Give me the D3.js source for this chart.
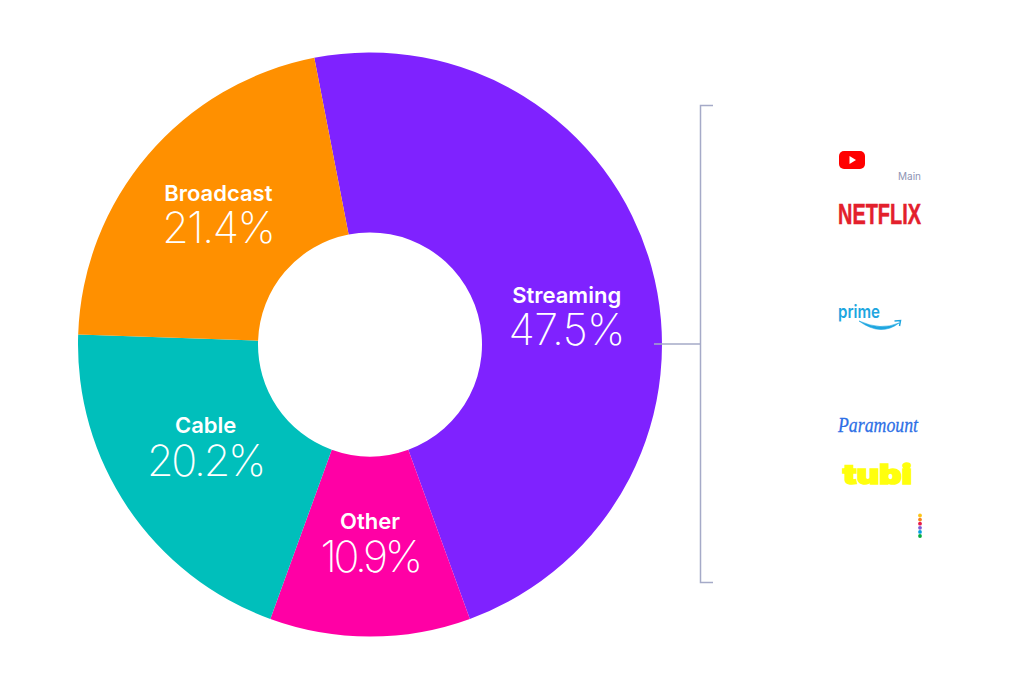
<!DOCTYPE html>
<html>
<head>
<meta charset="utf-8">
<script src="https://cdn.jsdelivr.net/npm/d3@7"></script>
<style>
html, body { margin: 0; padding: 0; background: #fff; }
svg { display: block; }
text { font-family: Inter, "Noto Sans", sans-serif; }
</style>
</head>
<body>
<div id="my_dataviz"></div>
<script>
var categories = ["Streaming", "Other", "Cable", "Broadcast"];
var shareLabels = ["47.5%", "10.9%", "20.2%", "21.4%"];
// arc sizes, Other and Cable are drawn a bit off their printed numbers
var arcShares = [47.5, 11.1, 20.0, 21.4];
var sliceColors = ["#7f22ff", "#ff00a5", "#00bfbb", "#ff9000"];
var peacockColors = ["#fcc419", "#f5821f", "#e6194b", "#7b5cd6", "#069de0", "#05ac3f"];

var width = 1023, height = 690;
var cx = 370, cy = 344.5;
var outerR = 292, innerR = 112;

var svg = d3.select("#my_dataviz")
    .append("svg")
    .attr("width", width)
    .attr("height", height);

// donut
var pie = d3.pie()
    .sort(null)
    .startAngle(-11 * Math.PI / 180)
    .endAngle(349 * Math.PI / 180);

var arc = d3.arc().innerRadius(innerR).outerRadius(outerR);
var slices = pie(arcShares);

var donut = svg.append("g").attr("transform", "translate(" + cx + "," + cy + ")");

donut.selectAll("path")
    .data(slices)
    .enter()
    .append("path")
    .attr("d", arc)
    .attr("fill", function(d, i) { return sliceColors[i]; });

// labels sit near the centroid, nudged per slice to where the picture has them
var nudge = [[2, 12], [0, -17.5], [3, -24.5], [2, -12.5]];
var tracking = [-0.6, -3.4, -2.2, -1.4];

var labels = donut.selectAll("g.label")
    .data(slices)
    .enter()
    .append("g")
    .attr("class", "label")
    .attr("transform", function(d, i) {
        var c = arc.centroid(d);
        return "translate(" + (c[0] + nudge[i][0]) + "," + (c[1] + nudge[i][1]) + ")";
    })
    .attr("text-anchor", "middle")
    .attr("fill", "#fff");

labels.append("text")
    .style("font-size", "22px")
    .style("font-weight", "600")
    .text(function(d, i) { return categories[i]; });

labels.append("text")
    .attr("y", 42.5)
    .style("font-size", "43px")
    .style("font-weight", "250")
    .style("letter-spacing", function(d, i) { return tracking[i] + "px"; })
    .text(function(d, i) { return shareLabels[i]; });

// bracket
var bracketColor = "#a5aac8";
svg.append("path")
    .attr("d", "M713,105.5H700.5V582.5H713M654,344H700.5")
    .attr("fill", "none")
    .attr("stroke", bracketColor)
    .attr("stroke-width", 1.5);

// service logos
var logos = svg.append("g");

logos.append("rect")
    .attr("x", 839).attr("y", 151)
    .attr("width", 26).attr("height", 18)
    .attr("rx", 5)
    .attr("fill", "#ff0000");
logos.append("path").attr("d", "M849.5,156L856,160L849.5,164Z").attr("fill", "#fff");

logos.append("text")
    .attr("x", 921).attr("y", 180)
    .attr("text-anchor", "end")
    .attr("fill", "#8e93b4")
    .style("font-size", "10px")
    .text("Main");

logos.append("text")
    .attr("x", 838).attr("y", 224)
    .attr("textLength", 83)
    .attr("lengthAdjust", "spacingAndGlyphs")
    .attr("fill", "#e3202c")
    .attr("stroke", "#e3202c")
    .attr("stroke-width", 0.5)
    .style("font-family", "'Liberation Sans Narrow', 'Liberation Sans', sans-serif")
    .style("font-weight", "700")
    .style("font-size", "29px")
    .text("NETFLIX");

logos.append("text")
    .attr("x", 838).attr("y", 318)
    .attr("textLength", 42)
    .attr("lengthAdjust", "spacingAndGlyphs")
    .attr("fill", "#1ea6e0")
    .style("font-weight", "600")
    .style("font-size", "18px")
    .text("prime");
logos.append("path")
    .attr("d", "M859,321Q881,337 899,323Q881,331 859,321Z")
    .attr("fill", "#1ea6e0")
    .attr("stroke", "#1ea6e0")
    .attr("stroke-width", 0.6);
logos.append("path")
    .attr("d", "M894.5,321L900.5,320.5L899.5,326")
    .attr("fill", "none")
    .attr("stroke", "#1ea6e0")
    .attr("stroke-width", 1.5);

logos.append("text")
    .attr("x", 838).attr("y", 432)
    .attr("textLength", 80)
    .attr("lengthAdjust", "spacingAndGlyphs")
    .attr("fill", "#2d6fe6")
    .attr("stroke", "#2d6fe6")
    .attr("stroke-width", 0.3)
    .style("font-family", "'Liberation Serif', serif")
    .style("font-style", "italic")
    .style("font-size", "22px")
    .text("Paramount");

logos.append("text")
    .attr("x", 843).attr("y", 484)
    .attr("textLength", 69)
    .attr("lengthAdjust", "spacingAndGlyphs")
    .attr("fill", "#ffff0d")
    .attr("stroke", "#ffff0d")
    .attr("stroke-width", 1.6)
    .style("font-weight", "900")
    .style("font-size", "27px")
    .text("tubi");

var dotY = d3.scalePoint()
    .domain(d3.range(peacockColors.length))
    .range([515.5, 536]);

logos.selectAll("circle")
    .data(peacockColors)
    .enter()
    .append("circle")
    .attr("cx", 920)
    .attr("cy", function(d, i) { return dotY(i); })
    .attr("r", 1.9)
    .attr("fill", function(d) { return d; });
</script>
</body>
</html>
